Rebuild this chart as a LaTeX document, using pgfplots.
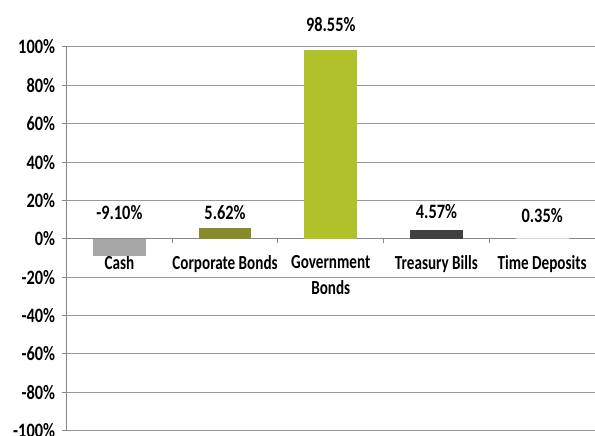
\documentclass[border=0pt]{standalone}
\usepackage{pgfplots}
\pgfplotsset{compat=1.18}
\usepackage{pgfplotstable}
\usepackage{fontspec}
\setmainfont{Carlito}[FakeStretch=0.80]
\newfontfamily\catfont{Carlito}[FakeStretch=0.76]
\definecolor{cCash}{HTML}{A6A6A6}
\definecolor{cCorp}{HTML}{868B2C}
\definecolor{cGov}{HTML}{B0C12A}
\definecolor{cTB}{HTML}{404040}
\definecolor{cTD}{HTML}{D9D9D9}
\definecolor{axisgray}{HTML}{868686}
\definecolor{gridgray}{HTML}{989898}
\pgfplotsset{
  layers/labelsontop/.define layer set={
    axis background,axis grid,axis ticks,axis lines,pre main,main,axis tick labels,axis descriptions,axis foreground
  }{},
}
\pgfplotstableread{
x y ly lab
0 -9.10 13.6 {-9.10\%}
1 5.62 13.6 {5.62\%}
2 98.55 111.6 {98.55\%}
3 4.57 14.3 {4.57\%}
4 0.35 12.3 {0.35\%}
}\labdata
\begin{document}
\begin{tikzpicture}
\begin{axis}[
  set layers=labelsontop,
  scale only axis, width=528.5bp, height=383.5bp,
  ybar, bar width=0.5, bar shift=0pt,
  xmin=-0.5, xmax=4.5, ymin=-100, ymax=100,
  axis x line=middle, axis y line=left,
  axis line style={-, draw=axisgray, line width=1bp},
  tick align=outside,
  ytick={-100,-80,-60,-40,-20,0,20,40,60,80,100},
  yticklabels={-100\%,-80\%,-60\%,-40\%,-20\%,0\%,20\%,40\%,60\%,80\%,100\%},
  ymajorgrids, major grid style={draw=gridgray, line width=1bp},
  ytick style={draw=axisgray, line width=1bp},
  major tick length=4bp, minor tick length=4bp,
  xtick={0,1,2,3,4},
  xticklabels={Cash, Corporate Bonds, {Government\\Bonds}, Treasury Bills, Time Deposits},
  major x tick style={draw=none},
  minor xtick={0.5,1.5,2.5,3.5},
  minor x tick style={draw=axisgray, line width=1bp},
  xticklabel style={align=center, font=\catfont\fontsize{20}{26}\selectfont\bfseries, yshift=-9bp},
  yticklabel style={font=\fontsize{20.5}{22}\selectfont\bfseries, xshift=-4bp},
  /pgf/number format/assume math mode=true,
  clip=false,
]
\addplot[fill=cCash, draw=none] coordinates {(0,-9.10)};
\addplot[fill=cCorp, draw=none] coordinates {(1,5.62)};
\addplot[fill=cGov, draw=none] coordinates {(2,98.55)};
\addplot[fill=cTB, draw=none] coordinates {(3,4.57)};
\addplot[fill=cTD, draw=none] coordinates {(4,0.35)};
\addplot[draw=none, fill=none, nodes near coords, point meta=explicit symbolic,
  every node near coord/.append style={anchor=center, font=\fontsize{20.5}{22}\selectfont\bfseries, text=black}]
  table[x=x, y=ly, meta=lab] {\labdata};
\coordinate (sw) at (rel axis cs:0,0);
\coordinate (ne) at (rel axis cs:1,1);
\end{axis}
\pgfresetboundingbox
\path[use as bounding box] ([xshift=-66.5bp,yshift=-5.5bp]sw) rectangle ([yshift=47bp]ne);
\end{tikzpicture}
\end{document}
